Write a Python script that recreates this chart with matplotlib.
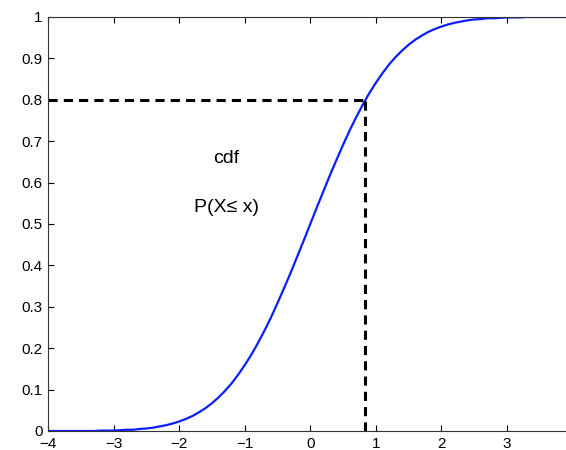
import matplotlib
matplotlib.use("Agg")
import matplotlib.pyplot as plt
import numpy as np

# cdf lue sur la courbe, pas de 0.1 entre -4 et 3.9
x_vals = np.round(np.arange(-4.0, 3.95, 0.1), 1)
cdf_vals = [0.000, 0.000, 0.000, 0.000, 0.000, 0.000, 0.000, 0.000, 0.001, 0.001,
            0.001, 0.002, 0.003, 0.003, 0.005, 0.006, 0.008, 0.011, 0.014, 0.018,
            0.023, 0.029, 0.036, 0.045, 0.055, 0.067, 0.081, 0.097, 0.115, 0.136,
            0.159, 0.184, 0.212, 0.242, 0.274, 0.309, 0.345, 0.382, 0.421, 0.460,
            0.500, 0.540, 0.579, 0.618, 0.655, 0.691, 0.726, 0.758, 0.788, 0.816,
            0.841, 0.864, 0.885, 0.903, 0.919, 0.933, 0.945, 0.955, 0.964, 0.971,
            0.977, 0.982, 0.986, 0.989, 0.992, 0.994, 0.995, 0.997, 0.997, 0.998,
            0.999, 0.999, 0.999, 1.000, 1.000, 1.000, 1.000, 1.000, 1.000, 1.000]
q_x = 0.84
q_p = 0.8
x_ticks = [-4, -3, -2, -1, 0, 1, 2, 3]
y_ticks = [0, 0.1, 0.2, 0.3, 0.4, 0.5, 0.6, 0.7, 0.8, 0.9, 1]
y_labels = ["0", "0.1", "0.2", "0.3", "0.4", "0.5", "0.6", "0.7", "0.8", "0.9", "1"]

plt.rcParams["font.family"] = ["Liberation Sans", "DejaVu Sans"]

fig = plt.figure(figsize=(5.66, 4.5), dpi=100)
ax = fig.add_axes([48 / 566, 1 - 431 / 450, 1 - 48 / 566, (431 - 17) / 450])

ax.plot(x_vals, cdf_vals, color="#0a1eff", linewidth=1.6)
ax.plot([-4, q_x], [q_p, q_p], color="black", linestyle=(0, (3, 2)), linewidth=2.2)
ax.plot([q_x, q_x], [0, q_p], color="black", linestyle=(0, (3, 2)), linewidth=2.2)

ax.text(-1.28, 0.659, "cdf", ha="center", va="center", fontsize=14)
ax.text(-1.28, 0.539, "P(X\u2264 x)", ha="center", va="center", fontsize=14)

ax.set_xlim(-4, 3.9)
ax.set_ylim(0, 1)
ax.set_xticks(x_ticks)
ax.set_xticklabels([f"\u2212{abs(t)}" if t < 0 else str(t) for t in x_ticks])
ax.set_yticks(y_ticks)
ax.set_yticklabels(y_labels)
ax.tick_params(direction="in", length=4, width=0.8, top=True, labelsize=11, pad=4)
ax.spines["right"].set_visible(False)
for s in ["left", "top", "bottom"]:
    ax.spines[s].set_linewidth(0.8)
    ax.spines[s].set_color("#333333")

fig.savefig("out.png", dpi=100)
